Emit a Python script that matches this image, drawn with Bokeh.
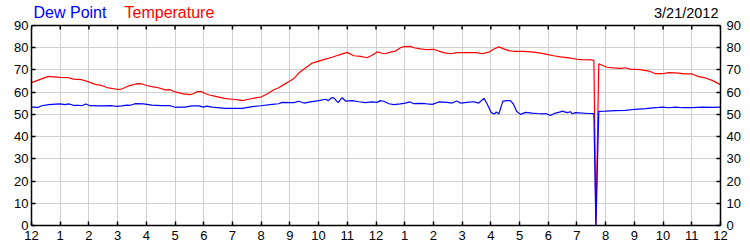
from bokeh.plotting import figure
from bokeh.models import Range1d, LinearAxis, FixedTicker, Label, BoxAnnotation, Span
from bokeh.embed import file_html
from bokeh.resources import INLINE

# ---- data (hours since midnight, degrees F) ----
temp_hours = [0.0, 0.59, 0.99, 1.29, 1.46, 1.75, 2.0, 2.22, 2.39, 2.68, 2.97, 3.14, 3.38, 3.67,
              3.85, 3.98, 4.19, 4.42, 4.66, 4.83, 5.0, 5.29, 5.53, 5.64, 5.76, 5.93, 6.06, 6.23,
              6.41, 6.76, 6.99, 7.22, 7.34, 7.57, 7.80, 7.99, 8.21, 8.44, 8.61, 8.79, 9.0, 9.14,
              9.31, 9.54, 9.78, 10.01, 10.24, 10.47, 10.70, 10.99, 11.23, 11.46, 11.69, 11.86,
              12.04, 12.21, 12.33, 12.50, 12.68, 12.85, 12.99, 13.20, 13.32, 13.55, 13.78, 14.01,
              14.19, 14.36, 14.59, 14.83, 15.17, 15.52, 15.70, 15.93, 16.11, 16.28, 16.45, 16.63,
              16.80, 17.15, 17.50, 17.73, 17.96, 18.19, 18.43, 18.72, 19.01, 19.18, 19.53, 19.59,
              19.66, 19.76, 19.88, 20.05, 20.28, 20.52, 20.69, 20.86, 21.04, 21.27, 21.50, 21.74,
              21.97, 22.20, 22.55, 22.72, 23.01, 23.24, 23.47, 23.71, 24.0]
temp_values = [64.3, 67.1, 66.7, 66.5, 65.9, 65.6, 64.6, 63.5, 63.2, 61.9, 61.3, 61.4, 62.8, 63.8,
               63.7, 63.1, 62.5, 62.0, 61.0, 61.1, 60.1, 59.2, 58.9, 59.3, 60.2, 60.2, 59.3, 58.6,
               58.1, 57.1, 56.8, 56.5, 56.2, 56.8, 57.4, 57.8, 59.2, 61.1, 62.0, 63.4, 65.0, 66.1,
               68.6, 70.9, 73.1, 74.0, 74.9, 75.7, 76.7, 77.9, 76.4, 76.1, 75.5, 76.6,
               78.1, 77.5, 77.3, 78.0, 78.5, 80.0, 80.5, 80.6, 80.0, 79.5, 79.1, 79.3,
               78.5, 77.8, 77.3, 77.8, 77.8, 77.8, 77.3, 78.0, 79.4, 80.4, 79.5, 78.7,
               78.4, 78.4, 78.0, 77.6, 77.0, 76.4, 75.9, 75.4, 74.8, 74.6, 74.5, 74.2,
               0.0, 72.8, 72.1, 71.2, 70.9, 70.7, 71.0, 70.4, 70.3, 70.0, 69.5, 68.3,
               68.3, 68.8, 68.6, 68.2, 68.2, 67.0, 66.4, 65.3, 63.4]

dew_hours = [0.0, 0.24, 0.36, 0.59, 0.99, 1.17, 1.29, 1.46, 1.64, 1.75, 1.89, 2.04, 2.39, 2.80,
             2.97, 3.14, 3.32, 3.44, 3.61, 3.90, 4.19, 4.54, 4.83, 5.0, 5.18, 5.35, 5.58, 5.82,
             5.99, 6.10, 6.29, 6.76, 7.34, 7.69, 7.99, 8.38, 8.61, 8.73, 9.0, 9.14, 9.31, 9.49,
             9.72, 10.01, 10.24, 10.34, 10.45, 10.53, 10.68, 10.82, 10.94, 11.17, 11.40, 11.63,
             11.86, 12.04, 12.15, 12.27, 12.45, 12.62, 12.85, 13.02, 13.18, 13.32, 13.55, 13.72,
             13.96, 14.19, 14.48, 14.65, 14.81, 14.94, 15.17, 15.41, 15.58, 15.76, 15.87, 16.01,
             16.13, 16.19, 16.28, 16.42, 16.57, 16.68, 16.78, 16.90, 17.03, 17.21, 17.44, 17.61,
             17.79, 17.91, 18.08, 18.25, 18.43, 18.48, 18.66, 18.77, 18.83, 18.95, 19.41, 19.59,
             19.66, 19.76, 19.99, 20.34, 20.69, 21.04, 21.39, 21.74, 21.97, 22.20, 22.43, 22.67,
             23.01, 23.36, 23.71, 24.0]
dew_values = [53.3, 53.2, 53.9, 54.4, 54.7, 54.4, 54.7, 54.1, 54.1, 53.9, 54.7, 53.9, 53.8, 53.9,
              53.6, 53.8, 54.2, 54.1, 54.8, 54.7, 54.2, 53.9, 53.9, 53.2, 53.3, 53.3, 53.8, 53.8,
              53.3, 53.7, 53.3, 52.7, 52.7, 53.5, 53.9, 54.5, 54.8, 55.4, 55.3, 55.3, 55.9, 55.1,
              55.6, 56.2, 56.8, 56.2, 57.5, 57.4, 55.3, 57.5, 56.0, 56.2, 55.7, 55.3,
              55.6, 55.4, 56.2, 55.9, 54.8, 54.4, 54.7, 55.1, 55.6, 54.8, 55.0, 54.8,
              54.5, 55.6, 55.4, 55.1, 56.0, 55.1, 55.4, 55.7, 55.1, 57.2, 54.8, 50.8,
              50.2, 51.1, 50.2, 56.0, 56.2, 56.2, 54.8, 51.4, 50.0, 50.9, 50.6, 50.4,
              50.2, 50.4, 49.5, 50.6, 51.1, 51.5, 50.8, 51.2, 50.3, 50.8, 50.4, 50.3,
              0.0, 51.4, 51.5, 51.7, 51.8, 52.3, 52.6, 53.0, 53.3, 53.0, 53.3, 53.0,
              53.0, 53.3, 53.2, 53.3]

x_ticks = list(range(0, 25))
x_tick_labels = {h: str(h % 12 or 12) for h in x_ticks}
y_ticks = [0, 10, 20, 30, 40, 50, 60, 70, 80, 90]
date_text = "3/21/2012"
series_names = ["Dew Point", "Temperature"]

FONT = "Liberation Sans"
Y_MAX = 90
# frame spans the whole height above the bottom axis; header band sits above Y_MAX
PX_PER_UNIT = 200 / 90.0
Y_TOP = Y_MAX + 25 / PX_PER_UNIT

p = figure(width=750, height=250, x_range=Range1d(0, 24), y_range=Range1d(0, Y_TOP),
           output_backend="svg", toolbar_location=None,
           min_border_left=31, min_border_right=30, min_border_top=0, min_border_bottom=25,
           x_axis_location=None, y_axis_location=None)
p.outline_line_color = None
p.background_fill_color = "white"
p.border_fill_color = "white"

xt = FixedTicker(ticks=x_ticks)
yt = FixedTicker(ticks=y_ticks)


def style(ax):
    ax.axis_line_color = "black"
    ax.axis_line_width = 1.5
    ax.major_tick_line_color = "black"
    ax.major_tick_line_width = 1.5
    ax.major_tick_in = 4
    ax.major_tick_out = 0
    ax.minor_tick_in = 0
    ax.minor_tick_out = 0
    ax.major_label_text_font = FONT
    ax.major_label_text_font_size = "13px"
    ax.major_label_text_color = "black"


bottom = LinearAxis(ticker=xt, major_label_overrides=x_tick_labels)
style(bottom)
bottom.major_label_standoff = 5
left = LinearAxis(ticker=yt, bounds=(0, Y_MAX))
style(left)
left.major_label_standoff = 3
right = LinearAxis(ticker=yt, bounds=(0, Y_MAX))
style(right)
right.major_label_standoff = 6

p.add_layout(bottom, "below")
p.add_layout(left, "left")
p.add_layout(right, "right")

p.xgrid.ticker = xt
p.ygrid.ticker = yt
p.grid.grid_line_color = "#d0d0d0"
p.grid.grid_line_width = 1

p.line(temp_hours, temp_values, line_color="#ff0000", line_width=1.2)
p.line(dew_hours, dew_values, line_color="#0000ff", line_width=1.2)

# inward ticks along the top edge of the plot box
p.segment(x0=x_ticks, y0=[Y_MAX] * len(x_ticks), x1=x_ticks,
          y1=[Y_MAX - 4 / PX_PER_UNIT] * len(x_ticks), line_color="black", line_width=1.5)

# header band (white) above the plot box, with the top border line
p.add_layout(BoxAnnotation(bottom=Y_MAX, fill_color="white", fill_alpha=1.0, line_color=None))
p.add_layout(Span(location=Y_MAX, dimension="width", line_color="black", line_width=1.5))

p.add_layout(Label(x=0.07, y=Y_MAX + 13 / PX_PER_UNIT, text=series_names[0], text_color="#0000ff",
                   text_font=FONT, text_font_size="16px", text_baseline="middle", text_align="left"))
p.add_layout(Label(x=3.24, y=Y_MAX + 13 / PX_PER_UNIT, text=series_names[1], text_color="#ff0000",
                   text_font=FONT, text_font_size="16px", text_baseline="middle", text_align="left"))
p.add_layout(Label(x=23.93, y=Y_MAX + 12.5 / PX_PER_UNIT, text=date_text, text_color="black",
                   text_font=FONT, text_font_size="14.5px", text_baseline="middle", text_align="right"))

open("out.html", "w").write(file_html(p, INLINE))
